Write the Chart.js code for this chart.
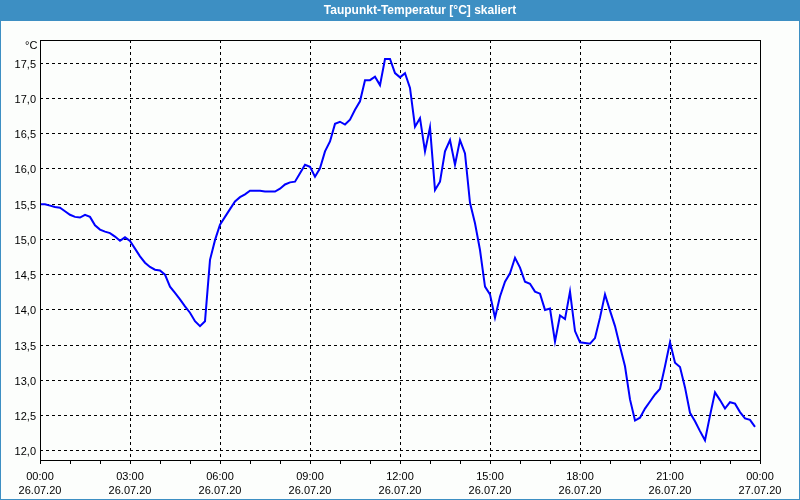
<!DOCTYPE html>
<html>
<head>
<meta charset="utf-8">
<script src="https://cdn.jsdelivr.net/npm/chart.js@4/dist/chart.umd.min.js"></script>
<style>
  html, body { margin: 0; padding: 0; background: #fcfefc; }
  #wrap { width: 800px; height: 500px; position: relative; }
  canvas { display: block; }
</style>
</head>
<body>
<div id="wrap"><canvas id="c" width="800" height="500"></canvas></div>
<script>
// ---- data ----
const chartTitle = "Taupunkt-Temperatur [°C] skaliert";
const unitLabel = "°C";
const times = [
  "00:00","00:10","00:20","00:30","00:40","00:50",
  "01:00","01:10","01:20","01:30","01:40","01:50",
  "02:00","02:10","02:20","02:30","02:40","02:50",
  "03:00","03:10","03:20","03:30","03:40","03:50",
  "04:00","04:10","04:20","04:30","04:40","04:50",
  "05:00","05:10","05:20","05:30","05:40","05:50",
  "06:00","06:10","06:20","06:30","06:40","06:50",
  "07:00","07:10","07:20","07:30","07:40","07:50",
  "08:00","08:10","08:20","08:30","08:40","08:50",
  "09:00","09:10","09:20","09:30","09:40","09:50",
  "10:00","10:10","10:20","10:30","10:40","10:50",
  "11:00","11:10","11:20","11:30","11:40","11:50",
  "12:00","12:10","12:20","12:30","12:40","12:50",
  "13:00","13:10","13:20","13:30","13:40","13:50",
  "14:00","14:10","14:20","14:30","14:40","14:50",
  "15:00","15:10","15:20","15:30","15:40","15:50",
  "16:00","16:10","16:20","16:30","16:40","16:50",
  "17:00","17:10","17:20","17:30","17:40","17:50",
  "18:00","18:10","18:20","18:30","18:40","18:50",
  "19:00","19:10","19:20","19:30","19:40","19:50",
  "20:00","20:10","20:20","20:30","20:40","20:50",
  "21:00","21:10","21:20","21:30","21:40","21:50",
  "22:00","22:10","22:20","22:30","22:40","22:50",
  "23:00","23:10","23:20","23:30","23:40","23:50"
];
const dewPoint = [
  15.50,15.50,15.48,15.46,15.45,15.40,
  15.35,15.32,15.31,15.35,15.32,15.20,
  15.14,15.11,15.09,15.04,14.98,15.03,
  14.98,14.87,14.76,14.67,14.61,14.57,
  14.56,14.50,14.33,14.24,14.15,14.05,
  13.96,13.84,13.77,13.84,14.71,14.99,
  15.21,15.32,15.43,15.54,15.60,15.64,
  15.69,15.69,15.69,15.68,15.68,15.68,
  15.72,15.78,15.81,15.82,15.94,16.06,
  16.03,15.89,16.01,16.25,16.39,16.64,
  16.67,16.63,16.70,16.84,16.96,17.26,
  17.26,17.31,17.19,17.56,17.56,17.36,
  17.30,17.36,17.15,16.60,16.72,16.25,
  16.59,15.70,15.82,16.25,16.41,16.06,
  16.41,16.22,15.52,15.23,14.85,14.33,
  14.22,13.89,14.19,14.40,14.52,14.74,
  14.60,14.40,14.37,14.26,14.23,14.00,
  14.02,13.55,13.92,13.87,14.26,13.70,
  13.54,13.53,13.52,13.60,13.89,14.22,
  13.99,13.77,13.48,13.20,12.73,12.43,
  12.47,12.60,12.70,12.80,12.88,13.20,
  13.54,13.25,13.19,12.90,12.54,12.42,
  12.28,12.15,12.50,12.83,12.72,12.60,
  12.69,12.67,12.55,12.46,12.44,12.34
];
const tickHours = [0, 3, 6, 9, 12, 15, 18, 21, 24];
const tickTimes = ["00:00","03:00","06:00","09:00","12:00","15:00","18:00","21:00","00:00"];
const tickDates = ["26.07.20","26.07.20","26.07.20","26.07.20","26.07.20","26.07.20","26.07.20","26.07.20","27.07.20"];
const yTicks = [12.0, 12.5, 13.0, 13.5, 14.0, 14.5, 15.0, 15.5, 16.0, 16.5, 17.0, 17.5];

// ---- build ----
const toHours = t => { const [h, m] = t.split(":").map(Number); return h + m / 60; };
const points = times.map((t, i) => ({ x: toHours(t), y: dewPoint[i] }));

const frame = {
  id: 'frame',
  beforeDraw(chart) {
    const { ctx, width, height } = chart;
    ctx.save();
    ctx.fillStyle = '#fcfefc';
    ctx.fillRect(0, 0, width, height);
    ctx.fillStyle = '#3d8fc3';
    ctx.fillRect(0, 0, width, 21);
    ctx.strokeStyle = '#3d8fc3';
    ctx.lineWidth = 1;
    ctx.strokeRect(0.5, 0.5, width - 1, height - 1);
    ctx.fillStyle = '#ffffff';
    ctx.font = 'bold 12px "Liberation Sans", Arial, sans-serif';
    ctx.textAlign = 'center';
    ctx.textBaseline = 'middle';
    ctx.fillText(chartTitle, 420, 11);
    ctx.fillStyle = '#000000';
    ctx.font = '11px "Liberation Sans", Arial, sans-serif';
    ctx.textAlign = 'left';
    ctx.fillText(unitLabel, 25, 46);
    ctx.restore();
  },
  afterDraw(chart) {
    const { ctx, chartArea: a } = chart;
    ctx.save();
    ctx.strokeStyle = '#000000';
    ctx.lineWidth = 1;
    ctx.setLineDash([]);
    ctx.strokeRect(Math.round(a.left) + 0.5, Math.round(a.top) + 0.5, Math.round(a.right - a.left), Math.round(a.bottom - a.top));
    ctx.restore();
  }
};

const font = { family: '"Liberation Sans", Arial, sans-serif', size: 11 };

new Chart(document.getElementById('c'), {
  type: 'line',
  data: {
    datasets: [{
      data: points,
      borderColor: '#0000ff',
      borderWidth: 2,
      pointRadius: 0,
      tension: 0,
      fill: false
    }]
  },
  options: {
    responsive: false,
    animation: false,
    events: [],
    layout: { padding: { top: 40, right: 40, left: 0, bottom: 0 } },
    plugins: { legend: { display: false }, title: { display: false }, tooltip: { enabled: false } },
    scales: {
      x: {
        type: 'linear',
        min: 0, max: 24,
        afterFit: s => { s.height = 40; },
        afterBuildTicks: s => { s.ticks = Array.from({ length: 25 }, (_, i) => ({ value: i })); },
        ticks: {
          autoSkip: false, maxRotation: 0, padding: 5, color: '#000000',
          font: { ...font, lineHeight: 1.36 },
          callback: v => {
            const k = tickHours.indexOf(v);
            return k >= 0 ? [tickTimes[k], tickDates[k]] : '';
          }
        },
        grid: {
          color: c => (tickHours.includes(c.tick.value) && c.tick.value !== 0 && c.tick.value !== 24) ? '#000000' : 'rgba(0,0,0,0)',
          tickColor: '#000000',
          tickLength: 4,
          tickBorderDash: [],
          lineWidth: 1
        },
        border: { display: false, dash: [3, 3] }
      },
      y: {
        min: 11.87, max: 17.83,
        afterFit: s => { s.width = 40; },
        afterBuildTicks: s => { s.ticks = yTicks.map(v => ({ value: v })); },
        ticks: {
          padding: 4, color: '#000000', font, labelOffset: 1.5,
          callback: v => Number(v).toFixed(1).replace('.', ',')
        },
        grid: { color: '#000000', drawTicks: false, lineWidth: 1 },
        border: { display: false, dash: [3, 3] }
      }
    }
  },
  plugins: [frame]
});
</script>
</body>
</html>
